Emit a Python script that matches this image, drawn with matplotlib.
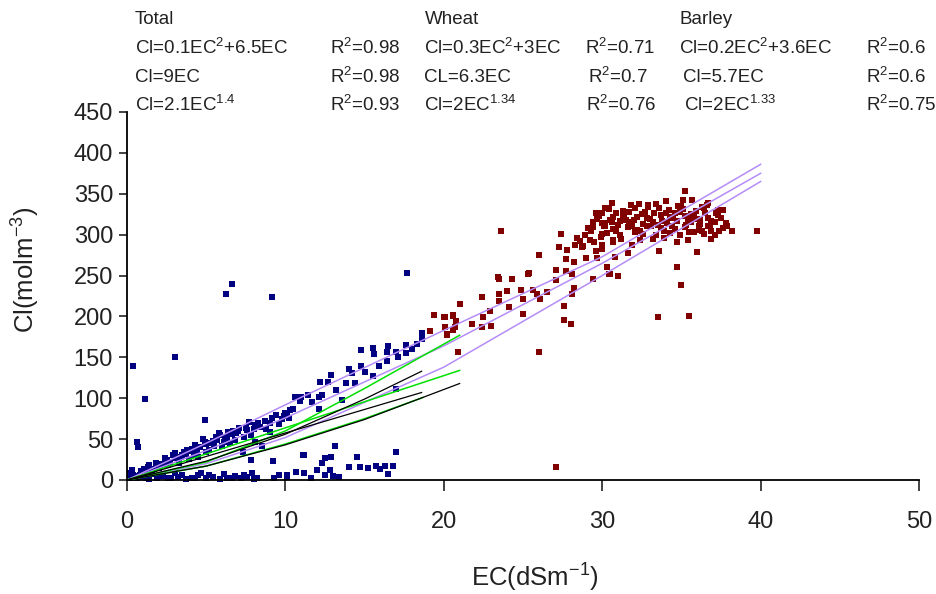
import matplotlib
matplotlib.use("Agg")
import matplotlib.pyplot as plt

plt.rcParams['font.family'] = ['Liberation Sans', 'DejaVu Sans']
plt.rcParams['mathtext.fontset'] = 'custom'
plt.rcParams['mathtext.rm'] = 'Liberation Sans'
plt.rcParams['mathtext.it'] = 'Liberation Sans'

# ---- scatter data ----
blue_ec = [0.4, 3.0, 6.6, 6.25, 9.15, 17.7, 1.15, 0.6, 0.7, 4.9, 0.3, 0.2, 0.5,
           1.3, 1.8, 2.4, 3.0, 3.8, 4.3, 4.9, 5.6, 5.8, 6.4, 7.1, 7.7, 8.1, 9.15, 9.8, 9.0,
           6.8, 6.0, 5.2, 8.1, 8.5, 7.3, 4.5, 3.9, 3.3,
           1.0, 1.5, 2.0, 2.2, 2.7, 3.5, 4.0, 4.6, 5.0, 5.4, 6.2, 6.6, 7.0, 7.5, 8.3, 8.7,
           9.4, 10.0, 10.3, 3.4, 4.2, 5.5, 6.5, 7.8, 8.8, 2.6, 1.2, 0.8, 1.7, 5.0, 6.1, 7.4,
           9.6, 10.2, 3.6, 4.8, 5.9, 2.9,
           1.1, 1.9, 2.5, 3.1, 3.7, 4.4, 5.3, 6.3, 6.9, 7.6, 8.4, 9.0, 9.9, 2.1, 4.1, 5.7,
           6.7, 8.0, 0.9, 1.4,
           0.2, 0.6, 1.0, 1.4, 1.9, 2.3, 2.8, 3.2, 3.7, 4.1, 4.5, 5.0, 5.4, 5.9, 6.3, 6.8,
           7.2, 7.6, 8.0, 8.2, 9.3, 9.6, 10.1, 0.9, 1.6, 3.0, 4.7, 6.1, 7.9, 7.8, 9.2, 11.1,
           0.4, 1.2, 2.0, 2.6, 3.5, 4.3, 5.2, 6.6, 7.4,
           11.2, 13.1, 12.5, 12.9, 12.3, 14.5, 17.0, 14.0, 14.7, 15.7, 16.3, 16.8, 16.5, 10.7,
           11.2, 12.0, 12.5, 13.0, 13.4, 10.1, 15.2, 16.0, 11.6, 12.8,
           14.8, 15.6, 15.5, 16.5, 16.4, 17.0, 17.1, 17.6, 17.6, 18.3, 18.6, 18.6, 16.4, 14.0,
           14.2, 14.8, 15.0, 15.5, 14.4, 13.8, 12.9, 12.7, 12.2, 12.3, 12.1, 11.4, 11.0, 10.6,
           10.9, 10.5, 12.1, 13.6, 10.1, 17.0, 18.0, 11.7, 13.2, 15.9]
blue_cl = [139, 150, 240, 228, 224, 253, 99, 46, 40, 73, 12, 8, 5,
           16, 21, 27, 33, 37, 43, 47, 52, 58, 59, 64, 71, 67, 76, 74, 59,
           49, 41, 37, 47, 41, 34, 28, 26, 21,
           10, 12, 15, 20, 22, 30, 35, 40, 44, 48, 53, 56, 60, 63, 70, 72,
           79, 82, 86, 28, 31, 42, 45, 55, 62, 18, 8, 6, 14, 34, 47, 52,
           68, 76, 34, 50, 55, 30,
           13, 18, 24, 27, 32, 37, 45, 51, 57, 61, 65, 70, 78, 16, 38, 49,
           60, 62, 11, 18,
           3, 2, 4, 1, 3, 5, 2, 4, 1, 3, 6, 2, 4, 1, 3, 5,
           2, 4, 1, 3, 3, 6, 4, 9, 7, 8, 8, 7, 9, 24, 23, 30,
           6, 2, 5, 3, 6, 2, 6, 3, 6,
           31, 41, 27, 28, 21, 28, 34, 16, 16, 17, 17, 17, 7, 10,
           9, 12, 6, 5, 4, 6, 15, 14, 3, 12,
           159, 154, 161, 164, 156, 156, 151, 165, 155, 166, 180, 172, 145, 136,
           131, 139, 132, 127, 119, 119, 129, 120, 120, 104, 101, 104, 102, 101,
           96, 87, 87, 98, 80, 111, 160, 95, 110, 140]

red_ec = [21.0, 19.4, 20.0, 20.6, 20.8, 20.1, 20.6, 19.1, 20.2, 21.8, 20.9, 20.2, 27.1,
          23.6, 30.2, 29.4, 30.0, 30.6, 27.4, 28.4, 27.3, 27.8, 28.3, 28.7, 29.5, 30.0, 30.7,
          26.0, 27.7, 28.2, 27.1, 27.7, 28.1, 29.0, 29.7, 30.4, 29.4, 27.1, 28.2, 28.1, 27.6,
          27.6, 28.0, 26.0, 25.4, 24.3, 23.5, 23.5, 24.0, 24.9, 25.6, 25.9, 26.5, 26.1, 25.0,
          23.5, 24.1, 25.0, 22.9, 22.4, 22.5, 23.0, 22.4, 21.8, 21.0, 20.6, 20.7, 20.1, 20.1,
          20.9, 25.3, 23.4,
          35.2, 30.3, 32.3, 32.9, 34.0, 35.1, 35.7, 36.7, 38.2, 39.8, 37.4, 36.9, 36.3, 37.6,
          35.5, 34.7, 33.6, 36.0, 34.7, 35.0, 33.5, 35.5, 31.0, 30.5, 30.3, 30.8, 31.6, 30.0,
          30.0, 30.7, 31.9, 33.2,
          30.4, 31.3, 32.1, 32.7, 33.6, 34.2, 35.1, 35.9, 36.4, 37.3,
          29.8, 30.7, 31.3, 32.2, 32.8, 33.7, 34.3, 35.2, 35.8, 36.7, 37.3,
          29.4, 30.2, 31.1, 31.7, 32.6, 33.2, 34.1, 34.7, 35.6, 36.2, 37.1, 37.8,
          29.1, 30.1, 30.7, 31.6, 32.2, 33.1, 33.7, 34.6, 35.2, 36.1, 36.7, 37.6,
          30.3, 31.1, 32.1, 32.6, 33.4, 34.3, 34.9, 35.8, 36.4, 37.1,
          31.2, 32.4, 33.9, 35.4, 36.9, 29.6, 31.5, 33.0, 34.6, 36.2, 37.9,
          30.0, 30.9, 31.7, 32.5, 33.3, 34.0, 34.9, 35.6, 36.5, 37.2,
          29.7, 30.5, 31.4, 32.0, 33.0, 33.8, 34.5, 35.4, 36.0, 36.9, 37.5,
          30.2, 31.0, 31.9, 32.8, 33.5, 34.4, 35.3, 36.1, 36.8,
          29.3, 30.9, 32.4, 33.9, 35.0, 36.6, 28.9, 29.9, 28.6, 29.2, 28.8, 29.6,
          31.8, 33.4, 34.8, 36.3, 30.6, 32.9]
red_cl = [215, 202, 199, 202, 195, 187, 184, 182, 177, 191, 156, 178, 16,
          305, 333, 309, 314, 316, 301, 296, 285, 281, 287, 285, 291, 283, 291,
          275, 270, 267, 257, 256, 252, 271, 271, 252, 246, 244, 235, 227, 213,
          196, 191, 156, 253, 246, 246, 227, 231, 232, 232, 227, 230, 221, 221,
          219, 211, 203, 207, 224, 199, 188, 187, 191, 215, 200, 187, 199, 187,
          156, 252, 248,
          353, 333, 338, 336, 341, 342, 342, 339, 305, 304, 305, 305, 305, 330,
          303, 291, 280, 279, 261, 238, 199, 201, 250, 252, 261, 273, 277, 287,
          301, 293, 287, 295,
          331, 329, 332, 328, 333, 330, 331, 329, 332, 330,
          323, 321, 324, 322, 320, 324, 321, 323, 322, 320, 324,
          316, 314, 317, 315, 313, 316, 314, 317, 315, 313, 316, 314,
          308, 310, 307, 309, 306, 310, 308, 307, 309, 306, 310, 308,
          302, 300, 303, 301, 299, 302, 300, 303, 301, 299,
          295, 293, 296, 294, 295, 326, 318, 311, 326, 318, 311,
          327, 326, 328, 325, 327, 326, 328, 325, 327, 326,
          319, 318, 320, 318, 319, 317, 320, 318, 319, 317, 320,
          311, 312, 310, 311, 312, 310, 312, 311, 310,
          304, 305, 305, 304, 335, 336, 300, 297, 292, 294, 286, 280,
          336, 337, 335, 334, 339, 334]

# ---- trend lines ----
tot_ec = [0, 5, 10, 20, 30, 40]
tot_top = [0, 45, 92, 183, 273, 386]
tot_mid = [0, 36, 76, 164, 265, 375]
tot_low = [0, 20, 52, 138, 250, 365]

wq_ec = [0, 5, 10, 15, 21];   wq_cl = [0, 22, 60, 112, 177]
wl_ec = [0, 21];              wl_cl = [0, 134]
wp_ec = [0, 5, 10, 15, 18.7]; wp_cl = [0, 17, 44, 75, 101]
bq_ec = [0, 5, 10, 15, 18.6]; bq_cl = [0, 23, 56, 99, 133]
bl_ec = [0, 18.6];            bl_cl = [0, 107]
bp_ec = [0, 5, 10, 15, 21];   bp_cl = [0, 17, 43, 74, 118]

x_ticks = [0, 10, 20, 30, 40, 50]
y_ticks = [0, 50, 100, 150, 200, 250, 300, 350, 400, 450]

W, H = 937, 594
fig = plt.figure(figsize=(W / 100, H / 100), dpi=100)
ax = fig.add_axes([127 / W, 1 - 480 / H, (919 - 127) / W, (480 - 112) / H])

ax.scatter(blue_ec, blue_cl, s=22, marker='s', color='#000080', linewidths=0, zorder=2, clip_on=False)
ax.scatter(red_ec, red_cl, s=22, marker='s', color='#800000', linewidths=0, zorder=2, clip_on=False)

purple = '#b58cf8'
for yy in (tot_top, tot_mid, tot_low):
    ax.plot(tot_ec, yy, color=purple, lw=1.1, zorder=3)
for xx, yy in ((wq_ec, wq_cl), (wl_ec, wl_cl), (wp_ec, wp_cl)):
    ax.plot(xx, yy, color='#00e000', lw=1.1, zorder=4)
for xx, yy in ((bq_ec, bq_cl), (bl_ec, bl_cl), (bp_ec, bp_cl)):
    ax.plot(xx, yy, color='black', lw=0.9, zorder=4)

ax.set_xlim(0, 50)
ax.set_ylim(0, 450)
ax.set_xticks(x_ticks)
ax.set_yticks(y_ticks)
for s in ('top', 'right'):
    ax.spines[s].set_visible(False)
for s in ('left', 'bottom'):
    ax.spines[s].set_linewidth(1.3)
ax.tick_params(axis='both', direction='out', labelsize=17, width=1.2, colors='#222222')
ax.tick_params(axis='x', length=8, pad=14)
ax.tick_params(axis='y', length=6, pad=4)
ax.set_xlabel('EC(dSm$^{-1}$)', fontsize=18.5, color='#222222')
ax.set_ylabel('Cl(molm$^{-3}$)', fontsize=18.5, color='#222222')
ax.xaxis.set_label_coords((535 - 127) / 792, (480 - 562) / 368)
ax.yaxis.set_label_coords((42 - 127) / 792, (480 - 270) / 368)

def t(x, y, s):
    fig.text(x / W, 1 - y / H, s, fontsize=13.5, va='center', ha='left', color='#222222')

t(135, 19, 'Total'); t(425, 19, 'Wheat'); t(680, 19, 'Barley')
t(135, 48, 'Cl=0.1EC$^2$+6.5EC'); t(330, 48, 'R$^2$=0.98')
t(424, 48, 'Cl=0.3EC$^2$+3EC'); t(585, 48, 'R$^2$=0.71')
t(679, 48, 'Cl=0.2EC$^2$+3.6EC'); t(866, 48, 'R$^2$=0.6')
t(135, 77, 'Cl=9EC'); t(330, 77, 'R$^2$=0.98')
t(424, 77, 'CL=6.3EC'); t(588, 77, 'R$^2$=0.7')
t(683, 77, 'Cl=5.7EC'); t(866, 77, 'R$^2$=0.6')
t(135, 105, 'Cl=2.1EC$^{1.4}$'); t(330, 105, 'R$^2$=0.93')
t(424, 105, 'Cl=2EC$^{1.34}$'); t(586, 105, 'R$^2$=0.76')
t(684, 105, 'Cl=2EC$^{1.33}$'); t(866, 105, 'R$^2$=0.75')

fig.savefig('out.png', dpi=100)
